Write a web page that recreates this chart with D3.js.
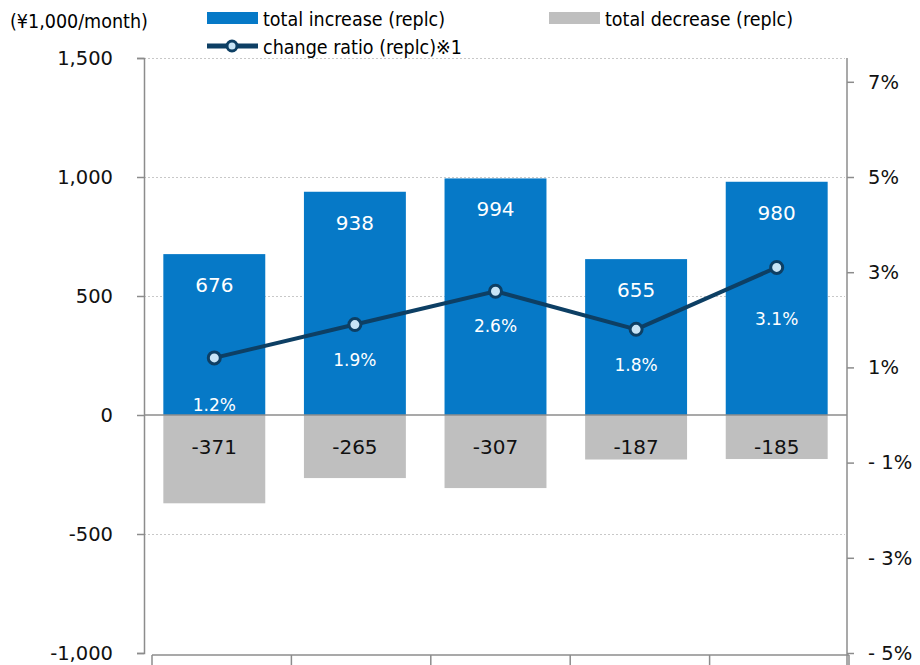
<!DOCTYPE html>
<html>
<head>
<meta charset="utf-8">
<script src="https://cdn.jsdelivr.net/npm/d3@7"></script>
<style>
  body { margin: 0; background: #fff; }
  svg { font-family: "DejaVu Sans", Verdana, sans-serif; }
  .lg { font-family: "DejaVu Sans Condensed", "DejaVu Sans", sans-serif; font-size: 19.5px; }
</style>
</head>
<body>
<div id="chart"></div>
<script>
// data
var categories = ["A", "B", "C", "D", "E"];
var increase = [676, 938, 994, 655, 980];
var decrease = [-371, -265, -307, -187, -185];
var ratio = [1.2, 1.9, 2.6, 1.8, 3.1];
var leftTicks = [-1000, -500, 0, 500, 1000, 1500];
var rightTicks = [-5, -3, -1, 1, 3, 5, 7];

var blue = "#0679C7", grey = "#BFBFBF", navy = "#0D3F64", dotFill = "#C7E4F6", axisC = "#8C8C8C";

var svg = d3.select("#chart").append("svg")
    .attr("width", 920)
    .attr("height", 665);

var x = d3.scaleBand().domain(categories).range([144, 847]).paddingInner(0.275).paddingOuter(0.1375);
var xAxisScale = d3.scaleBand().domain(categories).range([152, 849]);
var y = d3.scaleLinear().domain([-1000, 1500]).range([653, 58]);
var y2 = d3.scaleLinear().domain([-5, 7.5]).range([653, 58]);

// grid lines
svg.append("g").selectAll("line")
    .data(leftTicks.filter(function(d){ return d != 0 && d != -1000; }))
    .enter().append("line")
    .attr("x1", 144).attr("x2", 845)
    .attr("y1", function(d){ return y(d) + 0.5; })
    .attr("y2", function(d){ return y(d) + 0.5; })
    .attr("stroke", "#C8C8C8")
    .attr("stroke-dasharray", "2,2");

// bars
svg.append("g").selectAll("rect")
    .data(increase)
    .enter().append("rect")
    .attr("x", function(d, i){ return x(categories[i]); })
    .attr("y", function(d){ return y(d); })
    .attr("width", x.bandwidth())
    .attr("height", function(d){ return y(0) - y(d); })
    .attr("fill", blue);

svg.append("g").selectAll("rect")
    .data(decrease)
    .enter().append("rect")
    .attr("x", function(d, i){ return x(categories[i]); })
    .attr("y", y(0))
    .attr("width", x.bandwidth())
    .attr("height", function(d){ return y(d) - y(0); })
    .attr("fill", grey);

// zero line
svg.append("line")
    .attr("x1", 144).attr("x2", 847)
    .attr("y1", y(0)).attr("y2", y(0))
    .attr("stroke", axisC).attr("stroke-width", 1.5);

// left axis
var fmt = d3.format(",");
var gl = svg.append("g")
    .attr("transform", "translate(144,0)")
    .call(d3.axisLeft(y).tickValues(leftTicks).tickSize(7).tickPadding(24)
        .tickFormat(function(d){ return fmt(d).replace("\u2212", "-"); }));
gl.selectAll("text").attr("font-size", 19.5).attr("fill", "#111").attr("font-family", "DejaVu Sans");
gl.selectAll("line, path").attr("stroke", axisC).attr("stroke-width", 1.5);

// right axis
var gr = svg.append("g")
    .attr("transform", "translate(847,0)")
    .call(d3.axisRight(y2).tickValues(rightTicks).tickSize(7).tickPadding(14)
        .tickFormat(function(d){ return d < 0 ? "- " + Math.abs(d) + "%" : d + "%"; }));
gr.select("path").attr("d", "M0,58V665");
gr.selectAll("text").attr("font-size", 19.5).attr("fill", "#111").attr("font-family", "DejaVu Sans");
gr.selectAll("line, path").attr("stroke", axisC).attr("stroke-width", 1.5);

// bottom category axis (no labels)
var gb = svg.append("g")
    .attr("transform", "translate(0,655)")
    .call(d3.axisBottom(xAxisScale).tickSize(0).tickFormat(""));
gb.select("path").attr("d", "M152,0H849").attr("stroke", axisC).attr("stroke-width", 1.5);
gb.selectAll(".tick").remove();
gb.selectAll("line.sep")
    .data(categories.concat(["end"]))
    .enter().append("line")
    .attr("x1", function(d, i){ return i < categories.length ? xAxisScale(d) : 849; })
    .attr("x2", function(d, i){ return i < categories.length ? xAxisScale(d) : 849; })
    .attr("y1", 0).attr("y2", 12)
    .attr("stroke", axisC).attr("stroke-width", 1.5);

// bar labels
svg.append("g").selectAll("text")
    .data(increase)
    .enter().append("text")
    .attr("x", function(d, i){ return x(categories[i]) + x.bandwidth() / 2; })
    .attr("y", function(d){ return y(d) + 31; })
    .attr("dy", ".35em")
    .attr("text-anchor", "middle")
    .attr("font-size", 20)
    .attr("fill", "#fff")
    .text(function(d){ return d; });

svg.append("g").selectAll("text")
    .data(decrease)
    .enter().append("text")
    .attr("x", function(d, i){ return x(categories[i]) + x.bandwidth() / 2; })
    .attr("y", y(0) + 32)
    .attr("dy", ".35em")
    .attr("text-anchor", "middle")
    .attr("font-size", 20)
    .attr("fill", "#111")
    .text(function(d){ return d; });

// ratio line
var cx = function(d, i){ return x(categories[i]) + x.bandwidth() / 2; };
var line = d3.line()
    .x(function(d, i){ return cx(d, i); })
    .y(function(d){ return y2(d); });
svg.append("path")
    .datum(ratio)
    .attr("d", line)
    .attr("fill", "none")
    .attr("stroke", navy)
    .attr("stroke-width", 4);

svg.append("g").selectAll("circle")
    .data(ratio)
    .enter().append("circle")
    .attr("cx", cx)
    .attr("cy", function(d){ return y2(d); })
    .attr("r", 6)
    .attr("fill", dotFill)
    .attr("stroke", navy)
    .attr("stroke-width", 3);

var pctDy = [47, 35, 35, 36, 52];
svg.append("g").selectAll("text")
    .data(ratio)
    .enter().append("text")
    .attr("x", cx)
    .attr("y", function(d, i){ return y2(d) + pctDy[i]; })
    .attr("dy", ".35em")
    .attr("text-anchor", "middle")
    .attr("font-size", 17)
    .attr("fill", "#fff")
    .text(function(d){ return d.toFixed(1) + "%"; });

// unit label
svg.append("text").attr("class", "lg")
    .attr("x", 10).attr("y", 28)
    .text("(¥1,000/month)");

// legend
var lg = svg.append("g");
lg.append("rect").attr("x", 207).attr("y", 12).attr("width", 51).attr("height", 12).attr("fill", blue);
lg.append("text").attr("class", "lg").attr("x", 263).attr("y", 26).text("total increase (replc)");
lg.append("rect").attr("x", 549).attr("y", 12).attr("width", 51).attr("height", 12).attr("fill", grey);
lg.append("text").attr("class", "lg").attr("x", 605).attr("y", 26).text("total decrease (replc)");
lg.append("line").attr("x1", 207).attr("x2", 258).attr("y1", 46).attr("y2", 46)
    .attr("stroke", navy).attr("stroke-width", 5);
lg.append("circle").attr("cx", 232).attr("cy", 46).attr("r", 5)
    .attr("fill", dotFill).attr("stroke", navy).attr("stroke-width", 3);
lg.append("text").attr("class", "lg").attr("x", 263).attr("y", 54).text("change ratio (replc)※1");
</script>
</body>
</html>
